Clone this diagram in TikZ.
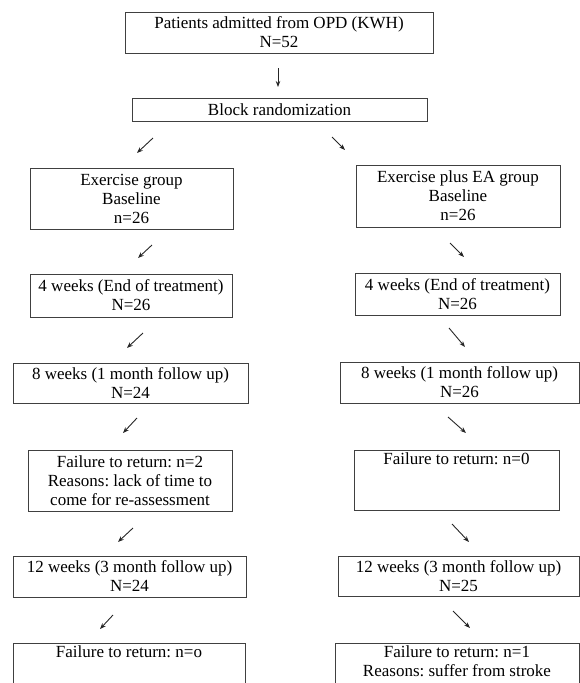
\documentclass[tikz,border=0pt]{standalone}
\usepackage{fontspec}
\setmainfont{Liberation Serif}
\usetikzlibrary{arrows.meta}
\frenchspacing
\begin{document}
\begin{tikzpicture}[x=1pt,y=-1pt,
    box/.style={draw=black!75,line width=0.9pt,inner sep=0pt,align=center,
      font=\fontsize{17}{19}\selectfont},
    arr/.style={-{Stealth[length=6pt,width=4.5pt]},line width=0.9pt,black!85}]
  \useasboundingbox (0,0) rectangle (580,683);
  \clip (0,0) rectangle (580,683);
  \draw
    (279,32.5) node[box,minimum width=308pt,minimum height=41pt] (top){Patients admitted from OPD (KWH)\\N=52}
    (279.5,109.5) node[box,minimum width=295pt,minimum height=23pt] (rand){Block randomization}
    (131.5,198.5) node[box,minimum width=203pt,minimum height=61pt] (L0){Exercise group\\Baseline\\n=26}
    (458,196) node[box,minimum width=204pt,minimum height=62pt] (R0){Exercise plus EA group\\Baseline\\n=26}
    (131,295.5) node[box,minimum width=202pt,minimum height=43pt] (L1){4 weeks (End of treatment)\\N=26}
    (457.5,294) node[box,minimum width=205pt,minimum height=42pt] (R1){4 weeks (End of treatment)\\N=26}
    (130.5,383) node[box,minimum width=235pt,minimum height=40pt] (L2){8 weeks (1 month follow up)\\N=24}
    (459.5,382.5) node[box,minimum width=239pt,minimum height=41pt] (R2){8 weeks (1 month follow up)\\N=26}
    (130,480.5) node[box,minimum width=204pt,minimum height=61pt] (L3){Failure to return: n=2\\Reasons: lack of time to\\come for re-assessment}
    (456.5,480) node[box,minimum width=205pt,minimum height=60pt] (R3){Failure to return: n=0\\\strut\\\strut}
    (129.5,576.5) node[box,minimum width=233pt,minimum height=41pt] (L4){12 weeks (3 month follow up)\\N=24}
    (458.5,576) node[box,minimum width=241pt,minimum height=40pt] (R4){12 weeks (3 month follow up)\\N=25}
    (129,673.5) node[box,minimum width=232pt,minimum height=61pt] (L5){Failure to return: n=o\\\strut\\\strut}
    (457,673.5) node[box,minimum width=244pt,minimum height=61pt] (R5){Failure to return: n=1\\Reasons: suffer from stroke\\\strut};
  \path
    (278,68) coordinate (a0)   (278,87) coordinate (b0)
    (153,138) coordinate (a1)  (137,153) coordinate (b1)
    (332,137) coordinate (a2)  (345,150) coordinate (b2)
    (152,245) coordinate (a3)  (138,258) coordinate (b3)
    (450,243) coordinate (a4)  (464,257) coordinate (b4)
    (143,333) coordinate (a5)  (127,348) coordinate (b5)
    (449,328) coordinate (a6)  (465,347) coordinate (b6)
    (137,418) coordinate (a7)  (123,433) coordinate (b7)
    (448,417) coordinate (a8)  (466,433) coordinate (b8)
    (133,528) coordinate (a9)  (118,542) coordinate (b9)
    (452,524) coordinate (a10) (469,542) coordinate (b10)
    (113,615) coordinate (a11) (100,629) coordinate (b11)
    (453,611) coordinate (a12) (470,628) coordinate (b12);
  \begin{scope}[arr]
    \draw (a0) to (b0);
    \draw (a1) to (b1);
    \draw (a2) to (b2);
    \draw (a3) to (b3);
    \draw (a4) to (b4);
    \draw (a5) to (b5);
    \draw (a6) to (b6);
    \draw (a7) to (b7);
    \draw (a8) to (b8);
    \draw (a9) to (b9);
    \draw (a10) to (b10);
    \draw (a11) to (b11);
    \draw (a12) to (b12);
  \end{scope}
\end{tikzpicture}
\end{document}
